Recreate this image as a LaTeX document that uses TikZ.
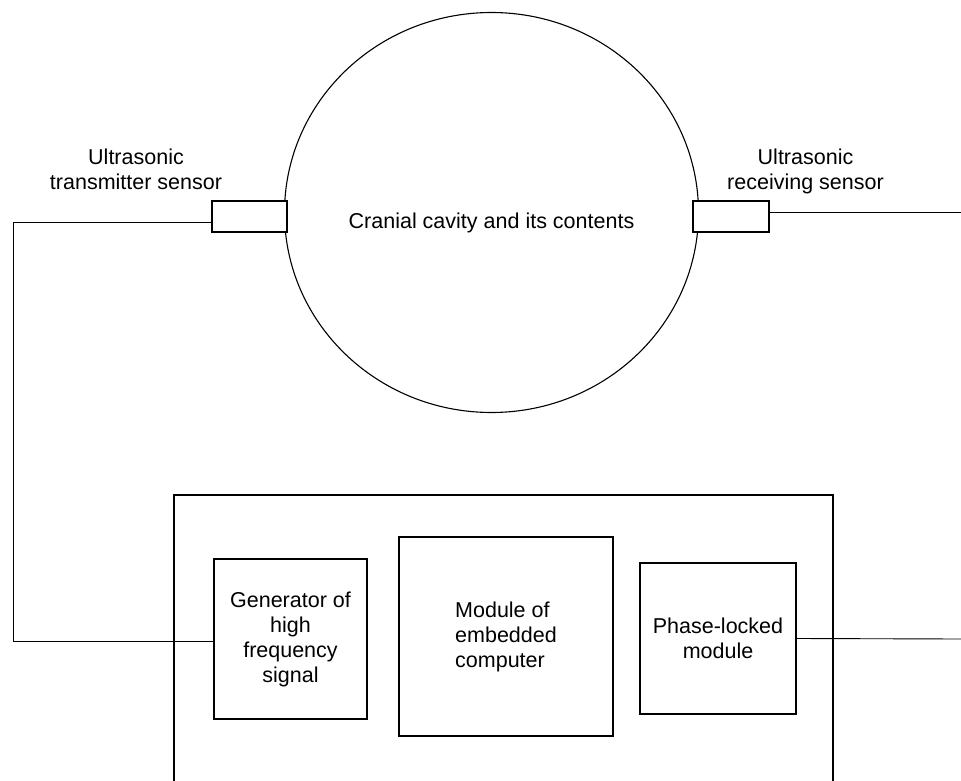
\documentclass[tikz,border=0pt]{standalone}
\usepackage{fontspec}
\setmainfont{Liberation Sans}
\usetikzlibrary{shapes.geometric}
\begin{document}
\begin{tikzpicture}[x=1pt,y=-1pt,
  every node/.style={font=\fontsize{21.5}{25}\selectfont, inner sep=0pt, outer sep=0pt},
  wire/.style={draw=black, line width=0.9pt},
  sensor/.style={draw=black, fill=white, line width=1.2pt, rectangle},
  block/.style={draw=black, line width=1.1pt, rectangle, align=center},
  lbl/.style={align=center}]
\useasboundingbox (0,0) rectangle (961,781);
\clip (0,0) rectangle (961,781);
% cranial cavity
\node[draw=black, line width=1.1pt, ellipse, minimum width=414pt, minimum height=400pt] (cav) at (491.5,212.5) {};
\node at (491.5,222.5) (cavtxt) {Cranial cavity and its contents};
% sensors
\node[sensor, minimum width=75pt, minimum height=31pt] (ls) at (249.5,216.5) {};
\node[sensor, minimum width=76pt, minimum height=31pt] (rs) at (731,216.5) {};
\node[lbl] (lsl) at (136,169.5) {Ultrasonic\\transmitter sensor};
\node[lbl] (rsl) at (805.5,171.5) {Ultrasonic\\receiving sensor};
% outer box (bottom cut off)
\coordinate (obl) at (174,790);
\coordinate (obr) at (833,790);
\draw[line width=1.1pt] (obl) -- (174,495) -- (833,495) -- (obr);
% blocks
\node[block, minimum width=153pt, minimum height=160pt] (gen) at (290.5,639) {Generator of\\high\\frequency\\signal};
\node[block, minimum width=214pt, minimum height=199pt, align=left] (mod) at (506,636.5) {Module of\\embedded\\computer};
\node[block, minimum width=156pt, minimum height=151pt] (pll) at (718,638.5) {Phase-locked\\module};
% wires
\coordinate (lcorner) at (13,222);
\coordinate (rend) at (961,212);
\coordinate (pend) at (961,639);
\draw[wire] ([yshift=-5.5pt]ls.west) -- (lcorner) |- ([yshift=-2pt]gen.west);
\draw[wire] ([yshift=4.5pt]rs.east) -- (rend);
\draw[wire] (pll.east) -- (pend);
\end{tikzpicture}
\end{document}
